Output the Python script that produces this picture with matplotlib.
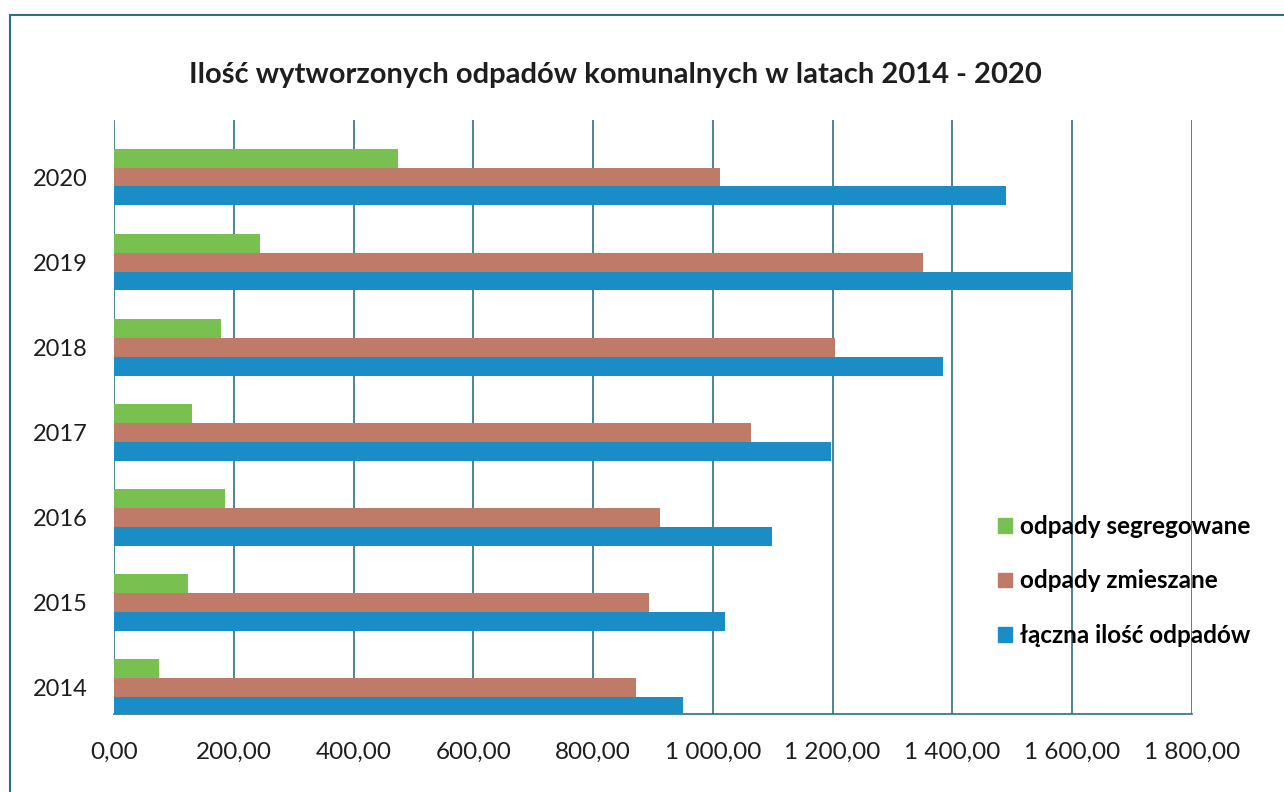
import matplotlib.pyplot as plt
import matplotlib.patches as mpatches
import numpy as np

years = ["2014", "2015", "2016", "2017", "2018", "2019", "2020"]
segregowane = [75, 124, 185, 130, 179, 244, 474]
zmieszane = [871, 893, 911, 1063, 1204, 1351, 1012]
laczna = [950, 1020, 1098, 1197, 1384, 1598, 1489]

series = [
    ("odpady segregowane", segregowane, "#78c04f"),
    ("odpady zmieszane", zmieszane, "#c07a68"),
    ("łączna ilość odpadów", laczna, "#1b8dc6"),
]
xticks = [0, 200, 400, 600, 800, 1000, 1200, 1400, 1600, 1800]

GRID = "#2f6f7c"
TEXT = "#1e1e1e"
plt.rcParams["font.family"] = ["Lato", "DejaVu Sans"]


def fmt(v):
    s = f"{v:,.2f}"
    return s.replace(",", " ").replace(".", ",")


fig = plt.figure(figsize=(12.84, 7.92), dpi=100)
ax = fig.add_axes([0.0888, 0.0985, 0.8395, 0.75])

y = np.arange(len(years))
bh = 0.222
offsets = [bh, 0, -bh]
for (label, vals, color), off in zip(series, offsets):
    ax.barh(y + off, vals, height=bh, color=color, label=label, zorder=3)

ax.set_xlim(0, 1800)
ax.set_ylim(-0.31, 6.67)
ax.set_xticks(xticks)
ax.set_xticklabels([fmt(v) for v in xticks], fontsize=17.5, color=TEXT)
ax.set_yticks(y)
ax.set_yticklabels(years, fontsize=17, color=TEXT)
ax.tick_params(axis="x", length=0, pad=20)
ax.tick_params(axis="y", length=0, pad=19)

for v in xticks:
    ax.axvline(v, color=GRID, linewidth=1.2, zorder=1)
for side in ["top", "right", "left"]:
    ax.spines[side].set_visible(False)
ax.spines["bottom"].set_color(GRID)
ax.spines["bottom"].set_linewidth(1.2)

fig.text(0.479, 0.905, "Ilość wytworzonych odpadów komunalnych w latach 2014 - 2020",
         ha="center", va="center", fontsize=21, fontweight="bold", color=TEXT)

handles = [mpatches.Patch(color=c, label=l) for l, _, c in series]
ax.legend(handles=handles, loc="center left", bbox_to_anchor=(0.800, 0.224),
          frameon=False, prop={"weight": "bold", "size": 17.5},
          handlelength=0.55, handleheight=0.55, handletextpad=0.35, labelspacing=1.3)

# ramka wykresu
fig.patches.append(mpatches.Rectangle((10 / 1284, -0.05), 1.1, 1 - 15 / 792 + 0.05,
                                      transform=fig.transFigure, fill=False,
                                      edgecolor=GRID, linewidth=1.5))

fig.savefig("out.png", dpi=100, facecolor="white")
